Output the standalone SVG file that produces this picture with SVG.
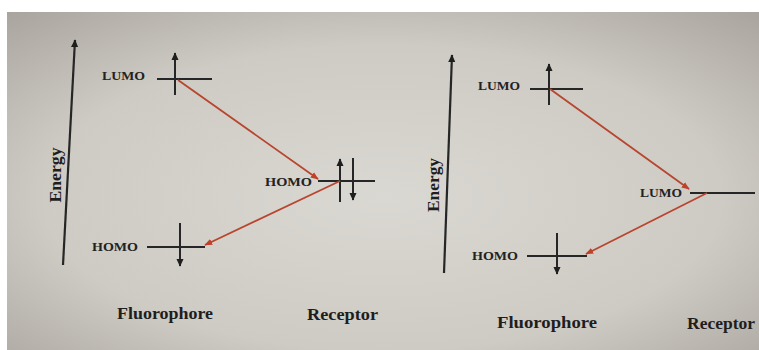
<svg xmlns="http://www.w3.org/2000/svg" width="759" height="350" viewBox="0 0 759 350">
<defs>
<radialGradient id="paper" cx="0.5" cy="0.55" r="0.75">
<stop offset="0" stop-color="#dad8d2"/>
<stop offset="0.6" stop-color="#cecbc4"/>
<stop offset="1" stop-color="#a8a49d"/>
</radialGradient>
<marker id="ah" viewBox="0 0 10 10" refX="9" refY="5" markerWidth="8" markerHeight="8" orient="auto" markerUnits="userSpaceOnUse">
<path d="M0,0.5 L10,5 L0,9.5 z" fill="#1e1e1e"/>
</marker>
<marker id="rh" viewBox="0 0 10 10" refX="9" refY="5" markerWidth="8" markerHeight="8" orient="auto" markerUnits="userSpaceOnUse">
<path d="M0,1 L10,5 L0,9 z" fill="#c0402a"/>
</marker>
</defs>
<style>
.ln{stroke:#262626;stroke-width:2;fill:none}
.ax{stroke:#262626;stroke-width:2.2;fill:none}
.red{stroke:#b8452e;stroke-width:1.8;fill:none}
.lb{font-family:"Liberation Serif",serif;font-weight:bold;font-size:13px;fill:#222}
.tt{font-family:"Liberation Serif",serif;font-weight:bold;font-size:17px;fill:#1e1e1e}
</style>
<rect width="759" height="350" fill="#ffffff"/>
<rect x="7" y="12" width="752" height="338" fill="url(#paper)"/>

<g id="left-axis">
<line class="ax" x1="63" y1="265" x2="75" y2="40" marker-end="url(#ah)"/>
<text class="tt" transform="translate(61,175) rotate(-90)" text-anchor="middle" textLength="55" lengthAdjust="spacingAndGlyphs">Energy</text>
</g>
<g id="left-fluor-lumo">
<line class="ln" x1="157" y1="79" x2="212" y2="79"/>
<line class="ln" x1="175" y1="95" x2="175" y2="53" marker-end="url(#ah)"/>
<text class="lb" x="102" y="80" textLength="43" lengthAdjust="spacingAndGlyphs">LUMO</text>
</g>
<g id="left-fluor-homo">
<line class="ln" x1="147" y1="247" x2="205" y2="247"/>
<line class="ln" x1="180" y1="223" x2="180" y2="266" marker-end="url(#ah)"/>
<text class="lb" x="92" y="251" textLength="46" lengthAdjust="spacingAndGlyphs">HOMO</text>
</g>
<g id="left-receptor-homo">
<line class="ln" x1="318" y1="181" x2="375" y2="181"/>
<line class="ln" x1="340" y1="202" x2="340" y2="159" marker-end="url(#ah)"/>
<line class="ln" x1="353" y1="158" x2="353" y2="200" marker-end="url(#ah)"/>
<text class="lb" x="265" y="186" textLength="47" lengthAdjust="spacingAndGlyphs">HOMO</text>
</g>
<text class="tt" x="117" y="319" textLength="96" lengthAdjust="spacingAndGlyphs">Fluorophore</text>
<text class="tt" x="307" y="320" textLength="71" lengthAdjust="spacingAndGlyphs">Receptor</text>

<g id="right-axis">
<line class="ax" x1="444" y1="273" x2="452" y2="55" marker-end="url(#ah)"/>
<text class="tt" transform="translate(439,185) rotate(-90)" text-anchor="middle" textLength="54" lengthAdjust="spacingAndGlyphs">Energy</text>
</g>
<g id="right-fluor-lumo">
<line class="ln" x1="530" y1="89" x2="583" y2="89"/>
<line class="ln" x1="549" y1="105" x2="549" y2="64" marker-end="url(#ah)"/>
<text class="lb" x="478" y="90" textLength="42" lengthAdjust="spacingAndGlyphs">LUMO</text>
</g>
<g id="right-fluor-homo">
<line class="ln" x1="527" y1="256" x2="587" y2="256"/>
<line class="ln" x1="557" y1="233" x2="557" y2="274" marker-end="url(#ah)"/>
<text class="lb" x="472" y="260" textLength="46" lengthAdjust="spacingAndGlyphs">HOMO</text>
</g>
<g id="right-receptor-lumo">
<line class="ln" x1="690" y1="193" x2="755" y2="193"/>
<text class="lb" x="640" y="197" textLength="42" lengthAdjust="spacingAndGlyphs">LUMO</text>
</g>
<text class="tt" x="497" y="328" textLength="100" lengthAdjust="spacingAndGlyphs">Fluorophore</text>
<text class="tt" x="687" y="329" textLength="68" lengthAdjust="spacingAndGlyphs">Receptor</text>

<g id="connectors">
<line class="red" x1="178" y1="80" x2="318" y2="179" marker-end="url(#rh)"/>
<line class="red" x1="340" y1="181" x2="205" y2="245" marker-end="url(#rh)"/>
<line class="red" x1="550" y1="89" x2="689" y2="189" marker-end="url(#rh)"/>
<line class="red" x1="707" y1="193" x2="586" y2="254" marker-end="url(#rh)"/>
</g>
</svg>
